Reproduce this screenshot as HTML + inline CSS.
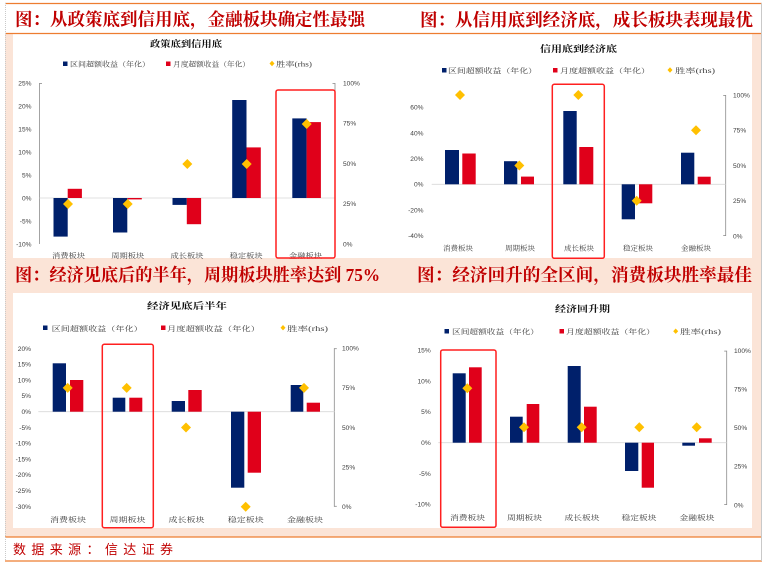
<!DOCTYPE html>
<html><head><meta charset="utf-8"><style>
html,body{margin:0;padding:0;background:#fff;}
svg{display:block;}
.tk{font-family:"Liberation Sans",Arial,sans-serif;font-size:6.6px;fill:#404040;}
.cj{font-family:"Liberation Serif","Noto Serif CJK SC",serif;font-size:7px;fill:#404040;}
.ct{font-family:"Liberation Serif","Noto Serif CJK SC",serif;font-size:9px;font-weight:bold;fill:#111;}
.rt{font-family:"Liberation Serif","Noto Serif CJK SC",serif;font-size:17.5px;font-weight:bold;fill:#c00000;}
</style></head><body>
<svg width="765" height="567" viewBox="0 0 765 567" xmlns="http://www.w3.org/2000/svg">
<!-- backgrounds -->
<rect x="0" y="0" width="765" height="567" fill="#fff"/>
<rect x="5" y="33" width="757" height="504" fill="#fbe4d7"/>
<rect x="13" y="34" width="739" height="224" fill="#fff"/>
<rect x="13" y="293" width="739" height="235" fill="#fff"/>
<!-- frame lines -->
<line x1="5" y1="3.5" x2="762" y2="3.5" stroke="#ed7d31" stroke-width="1.2"/>
<line x1="5" y1="33.5" x2="762" y2="33.5" stroke="#ed7d31" stroke-width="1.2"/>
<line x1="5" y1="537" x2="762" y2="537" stroke="#ed7d31" stroke-width="1.2"/>
<line x1="5" y1="561" x2="762" y2="561" stroke="#ed7d31" stroke-width="1.2"/>
<line x1="5.5" y1="3" x2="5.5" y2="561" stroke="#c9c9c9" stroke-width="1" stroke-dasharray="1,1"/>
<line x1="761.5" y1="3" x2="761.5" y2="561" stroke="#c9c9c9" stroke-width="1"/>

<!-- section titles -->
<text class="rt" x="15" y="25.5" textLength="350" lengthAdjust="spacingAndGlyphs">图：从政策底到信用底，金融板块确定性最强</text>
<text class="rt" x="420" y="26" textLength="333" lengthAdjust="spacingAndGlyphs">图：从信用底到经济底，成长板块表现最优</text>
<text class="rt" x="15" y="281" textLength="365" lengthAdjust="spacingAndGlyphs">图：经济见底后的半年，周期板块胜率达到 75%</text>
<text class="rt" x="417" y="281" textLength="335" lengthAdjust="spacingAndGlyphs">图：经济回升的全区间，消费板块胜率最佳</text>

<!-- footer -->
<text x="13" y="554" textLength="160" lengthAdjust="spacing" style="font-family:'Liberation Sans','Noto Sans CJK SC',sans-serif;font-size:13px;fill:#c00000;">数据来源：信达证券</text>

<!-- ================= Chart TL ================= -->
<text class="ct" x="150" y="47" textLength="72" lengthAdjust="spacingAndGlyphs">政策底到信用底</text>
<rect x="63" y="61.5" width="4.5" height="4.5" fill="#00206b"/>
<text class="cj" x="70" y="66.5" textLength="80" lengthAdjust="spacingAndGlyphs">区间超额收益（年化）</text>
<rect x="166" y="61.5" width="4.5" height="4.5" fill="#e0001a"/>
<text class="cj" x="173" y="66.5" textLength="77" lengthAdjust="spacingAndGlyphs">月度超额收益（年化）</text>
<polygon points="272,60.8 274.5,63.5 272,66.2 269.5,63.5" fill="#ffc000"/>
<text class="cj" x="276" y="66.5" textLength="36" lengthAdjust="spacingAndGlyphs">胜率(rhs)</text>
<g class="tk" text-anchor="end">
<text x="31.5" y="85.3">25%</text><text x="31.5" y="108.3">20%</text><text x="31.5" y="131.3">15%</text><text x="31.5" y="154.3">10%</text><text x="31.5" y="177.3">5%</text><text x="31.5" y="200.3">0%</text><text x="31.5" y="223.3">-5%</text><text x="31.5" y="246.3">-10%</text>
</g>
<g class="tk">
<text x="343" y="85.3">100%</text><text x="343" y="125.5">75%</text><text x="343" y="165.8">50%</text><text x="343" y="206">25%</text><text x="343" y="246.3">0%</text>
</g>
<line x1="39.5" y1="83" x2="39.5" y2="244" stroke="#8c8c8c" stroke-width="0.8"/>
<line x1="39.5" y1="83.4" x2="42" y2="83.4" stroke="#8c8c8c" stroke-width="0.8"/>
<line x1="335" y1="83" x2="335" y2="244" stroke="#8c8c8c" stroke-width="0.8"/>
<line x1="332.5" y1="83.4" x2="335" y2="83.4" stroke="#8c8c8c" stroke-width="0.8"/>
<line x1="39.5" y1="198" x2="335" y2="198" stroke="#d9d9d9" stroke-width="0.8"/>
<g fill="#00206b">
<rect x="53.5" y="198" width="14.2" height="38.6"/>
<rect x="113" y="198" width="14.3" height="34.5"/>
<rect x="172.5" y="198" width="14.3" height="6.9"/>
<rect x="232.2" y="100" width="14.3" height="98"/>
<rect x="292.3" y="118.4" width="14.3" height="79.6"/>
</g>
<g fill="#e0001a">
<rect x="67.7" y="188.8" width="14.2" height="9.2"/>
<rect x="127.5" y="198" width="14.3" height="1.4"/>
<rect x="186.8" y="198" width="14.3" height="26.2"/>
<rect x="246.5" y="147.4" width="14.3" height="50.6"/>
<rect x="306.6" y="122.1" width="14.3" height="75.9"/>
</g>
<g fill="#ffc000">
<polygon points="68,199 73,204 68,209 63,204"/>
<polygon points="127.7,199 132.7,204 127.7,209 122.7,204"/>
<polygon points="187.3,159 192.3,164 187.3,169 182.3,164"/>
<polygon points="246.7,159 251.7,164 246.7,169 241.7,164"/>
<polygon points="306.7,119 311.7,124 306.7,129 301.7,124"/>
</g>
<g class="cj">
<text x="52" y="258" textLength="33" lengthAdjust="spacingAndGlyphs">消费板块</text>
<text x="111.3" y="258" textLength="33" lengthAdjust="spacingAndGlyphs">周期板块</text>
<text x="170.5" y="258" textLength="33" lengthAdjust="spacingAndGlyphs">成长板块</text>
<text x="229.7" y="258" textLength="33" lengthAdjust="spacingAndGlyphs">稳定板块</text>
<text x="289" y="258" textLength="33" lengthAdjust="spacingAndGlyphs">金融板块</text>
</g>
<rect x="276" y="90" width="59" height="168" rx="2" fill="none" stroke="#ff1f1f" stroke-width="1.5"/>

<!-- ================= Chart TR ================= -->
<text class="ct" x="540" y="52" textLength="77" lengthAdjust="spacingAndGlyphs">信用底到经济底</text>
<rect x="442" y="68" width="4.5" height="4.5" fill="#00206b"/>
<text class="cj" x="448" y="73" textLength="89" lengthAdjust="spacingAndGlyphs">区间超额收益（年化）</text>
<rect x="553" y="68" width="4.5" height="4.5" fill="#e0001a"/>
<text class="cj" x="560" y="73" textLength="90" lengthAdjust="spacingAndGlyphs">月度超额收益（年化）</text>
<polygon points="670,67.3 672.5,70 670,72.7 667.5,70" fill="#ffc000"/>
<text class="cj" x="675" y="73" textLength="40" lengthAdjust="spacingAndGlyphs">胜率(rhs)</text>
<g class="tk" text-anchor="end">
<text x="423.5" y="109.6">60%</text><text x="423.5" y="135.3">40%</text><text x="423.5" y="161">20%</text><text x="423.5" y="186.6">0%</text><text x="423.5" y="212.3">-20%</text><text x="423.5" y="238">-40%</text>
</g>
<g class="tk">
<text x="733" y="97.3">100%</text><text x="733" y="132.5">75%</text><text x="733" y="167.8">50%</text><text x="733" y="203">25%</text><text x="733" y="238.3">0%</text>
</g>
<line x1="725.7" y1="95" x2="725.7" y2="236" stroke="#8c8c8c" stroke-width="0.8"/>
<line x1="723.2" y1="95.4" x2="725.7" y2="95.4" stroke="#8c8c8c" stroke-width="0.8"/>
<line x1="723.2" y1="235.6" x2="725.7" y2="235.6" stroke="#8c8c8c" stroke-width="0.8"/>
<line x1="431.7" y1="184.3" x2="725.7" y2="184.3" stroke="#d9d9d9" stroke-width="0.8"/>
<g fill="#00206b">
<rect x="445" y="150" width="14" height="34.3"/>
<rect x="504" y="161.2" width="13.3" height="23.1"/>
<rect x="563.3" y="111" width="13.4" height="73.3"/>
<rect x="621.7" y="184.3" width="13.3" height="35"/>
<rect x="681" y="152.7" width="13.3" height="31.6"/>
</g>
<g fill="#e0001a">
<rect x="462.3" y="153.5" width="13.4" height="30.8"/>
<rect x="521" y="176.6" width="13" height="7.7"/>
<rect x="579.3" y="147" width="14" height="37.3"/>
<rect x="639" y="184.3" width="13.3" height="19"/>
<rect x="697.7" y="176.7" width="13" height="7.6"/>
</g>
<g fill="#ffc000">
<polygon points="460,90 465,95 460,100 455,95"/>
<polygon points="519.3,160.5 524.3,165.5 519.3,170.5 514.3,165.5"/>
<polygon points="578.3,90 583.3,95 578.3,100 573.3,95"/>
<polygon points="636.7,195.7 641.7,200.7 636.7,205.7 631.7,200.7"/>
<polygon points="696,125.2 701,130.2 696,135.2 691,130.2"/>
</g>
<g class="cj">
<text x="443" y="250.5" textLength="30" lengthAdjust="spacingAndGlyphs">消费板块</text>
<text x="505" y="250.5" textLength="30" lengthAdjust="spacingAndGlyphs">周期板块</text>
<text x="564" y="250.5" textLength="30" lengthAdjust="spacingAndGlyphs">成长板块</text>
<text x="623" y="250.5" textLength="30" lengthAdjust="spacingAndGlyphs">稳定板块</text>
<text x="681" y="250.5" textLength="30" lengthAdjust="spacingAndGlyphs">金融板块</text>
</g>
<rect x="552.3" y="84.3" width="52" height="174" rx="2" fill="none" stroke="#ff1f1f" stroke-width="1.5"/>

<!-- ================= Chart BL ================= -->
<text class="ct" x="147" y="309" textLength="80" lengthAdjust="spacingAndGlyphs">经济见底后半年</text>
<rect x="43" y="325.5" width="4.5" height="4.5" fill="#00206b"/>
<text class="cj" x="51.7" y="331" textLength="91" lengthAdjust="spacingAndGlyphs">区间超额收益（年化）</text>
<rect x="161" y="325.5" width="4.5" height="4.5" fill="#e0001a"/>
<text class="cj" x="167" y="331" textLength="93" lengthAdjust="spacingAndGlyphs">月度超额收益（年化）</text>
<polygon points="283,325 285.5,327.7 283,330.4 280.5,327.7" fill="#ffc000"/>
<text class="cj" x="287" y="331" textLength="41" lengthAdjust="spacingAndGlyphs">胜率(rhs)</text>
<g class="tk" text-anchor="end">
<text x="31" y="350.8">20%</text><text x="31" y="366.6">15%</text><text x="31" y="382.4">10%</text><text x="31" y="398.2">5%</text><text x="31" y="414">0%</text><text x="31" y="429.8">-5%</text><text x="31" y="445.6">-10%</text><text x="31" y="461.4">-15%</text><text x="31" y="477.2">-20%</text><text x="31" y="493">-25%</text><text x="31" y="508.8">-30%</text>
</g>
<g class="tk">
<text x="342" y="350.6">100%</text><text x="342" y="390.2">75%</text><text x="342" y="429.8">50%</text><text x="342" y="469.4">25%</text><text x="342" y="509">0%</text>
</g>
<line x1="334.3" y1="348.3" x2="334.3" y2="506.7" stroke="#8c8c8c" stroke-width="0.8"/>
<line x1="334.3" y1="348.7" x2="336.8" y2="348.7" stroke="#8c8c8c" stroke-width="0.8"/>
<line x1="334.3" y1="506.3" x2="336.8" y2="506.3" stroke="#8c8c8c" stroke-width="0.8"/>
<line x1="38.3" y1="411.7" x2="334.3" y2="411.7" stroke="#d9d9d9" stroke-width="0.8"/>
<g fill="#00206b">
<rect x="52.7" y="363.3" width="13.3" height="48.4"/>
<rect x="112.7" y="397.7" width="12.6" height="14"/>
<rect x="171.7" y="401" width="13.3" height="10.7"/>
<rect x="231" y="411.7" width="13.3" height="76"/>
<rect x="290.7" y="385" width="12.6" height="26.7"/>
</g>
<g fill="#e0001a">
<rect x="70" y="380" width="13.3" height="31.7"/>
<rect x="129.3" y="397.7" width="13" height="14"/>
<rect x="188.3" y="390" width="13.4" height="21.7"/>
<rect x="247.7" y="411.7" width="13.3" height="61"/>
<rect x="306.7" y="402.7" width="13.3" height="9"/>
</g>
<g fill="#ffc000">
<polygon points="67.7,382.9 72.7,387.9 67.7,392.9 62.7,387.9"/>
<polygon points="126.7,382.9 131.7,387.9 126.7,392.9 121.7,387.9"/>
<polygon points="186,422.5 191,427.5 186,432.5 181,427.5"/>
<polygon points="245.7,501.7 250.7,506.7 245.7,511.7 240.7,506.7"/>
<polygon points="304,382.9 309,387.9 304,392.9 299,387.9"/>
</g>
<g class="cj">
<text x="50" y="522" textLength="36" lengthAdjust="spacingAndGlyphs">消费板块</text>
<text x="109.5" y="522" textLength="36" lengthAdjust="spacingAndGlyphs">周期板块</text>
<text x="168.5" y="522" textLength="36" lengthAdjust="spacingAndGlyphs">成长板块</text>
<text x="227.8" y="522" textLength="36" lengthAdjust="spacingAndGlyphs">稳定板块</text>
<text x="287" y="522" textLength="36" lengthAdjust="spacingAndGlyphs">金融板块</text>
</g>
<rect x="102.3" y="344.3" width="51" height="183.4" rx="2" fill="none" stroke="#ff1f1f" stroke-width="1.5"/>

<!-- ================= Chart BR ================= -->
<text class="ct" x="555" y="312" textLength="55" lengthAdjust="spacingAndGlyphs">经济回升期</text>
<rect x="444.5" y="329" width="4.5" height="4.5" fill="#00206b"/>
<text class="cj" x="452" y="334" textLength="87" lengthAdjust="spacingAndGlyphs">区间超额收益（年化）</text>
<rect x="559.5" y="329" width="4.5" height="4.5" fill="#e0001a"/>
<text class="cj" x="566" y="334" textLength="89" lengthAdjust="spacingAndGlyphs">月度超额收益（年化）</text>
<polygon points="675.7,328.5 678.2,331.2 675.7,333.9 673.2,331.2" fill="#ffc000"/>
<text class="cj" x="680" y="334" textLength="41" lengthAdjust="spacingAndGlyphs">胜率(rhs)</text>
<g class="tk" text-anchor="end">
<text x="430.7" y="352.6">15%</text><text x="430.7" y="383.4">10%</text><text x="430.7" y="414.2">5%</text><text x="430.7" y="445">0%</text><text x="430.7" y="475.8">-5%</text><text x="430.7" y="506.6">-10%</text>
</g>
<g class="tk">
<text x="734" y="353">100%</text><text x="734" y="391.6">75%</text><text x="734" y="430.1">50%</text><text x="734" y="468.7">25%</text><text x="734" y="507.3">0%</text>
</g>
<line x1="726.7" y1="350.7" x2="726.7" y2="505" stroke="#8c8c8c" stroke-width="0.8"/>
<line x1="724.2" y1="351.1" x2="726.7" y2="351.1" stroke="#8c8c8c" stroke-width="0.8"/>
<line x1="724.2" y1="504.6" x2="726.7" y2="504.6" stroke="#8c8c8c" stroke-width="0.8"/>
<line x1="438.3" y1="442.7" x2="726.7" y2="442.7" stroke="#d9d9d9" stroke-width="0.8"/>
<g fill="#00206b">
<rect x="452.7" y="373.3" width="13" height="69.4"/>
<rect x="510" y="416.7" width="12.7" height="26"/>
<rect x="567.7" y="366" width="13" height="76.7"/>
<rect x="625" y="442.7" width="13.3" height="28.3"/>
<rect x="682.3" y="442.7" width="12.7" height="3"/>
</g>
<g fill="#e0001a">
<rect x="469" y="367.3" width="12.7" height="75.4"/>
<rect x="526.7" y="404" width="12.6" height="38.7"/>
<rect x="584" y="406.7" width="12.7" height="36"/>
<rect x="641.7" y="442.7" width="12.3" height="45"/>
<rect x="699" y="438.3" width="12.7" height="4.4"/>
</g>
<g fill="#ffc000">
<polygon points="467.3,383.3 472.3,388.3 467.3,393.3 462.3,388.3"/>
<polygon points="524,422.3 529,427.3 524,432.3 519,427.3"/>
<polygon points="581.7,422.3 586.7,427.3 581.7,432.3 576.7,427.3"/>
<polygon points="639.3,422.3 644.3,427.3 639.3,432.3 634.3,427.3"/>
<polygon points="696.7,422.3 701.7,427.3 696.7,432.3 691.7,427.3"/>
</g>
<g class="cj">
<text x="450" y="520" textLength="35" lengthAdjust="spacingAndGlyphs">消费板块</text>
<text x="507" y="520" textLength="35" lengthAdjust="spacingAndGlyphs">周期板块</text>
<text x="564.5" y="520" textLength="35" lengthAdjust="spacingAndGlyphs">成长板块</text>
<text x="621.5" y="520" textLength="35" lengthAdjust="spacingAndGlyphs">稳定板块</text>
<text x="679.5" y="520" textLength="35" lengthAdjust="spacingAndGlyphs">金融板块</text>
</g>
<rect x="440.7" y="350" width="55.3" height="177.3" rx="2" fill="none" stroke="#ff1f1f" stroke-width="1.5"/>
</svg>
</body></html>
